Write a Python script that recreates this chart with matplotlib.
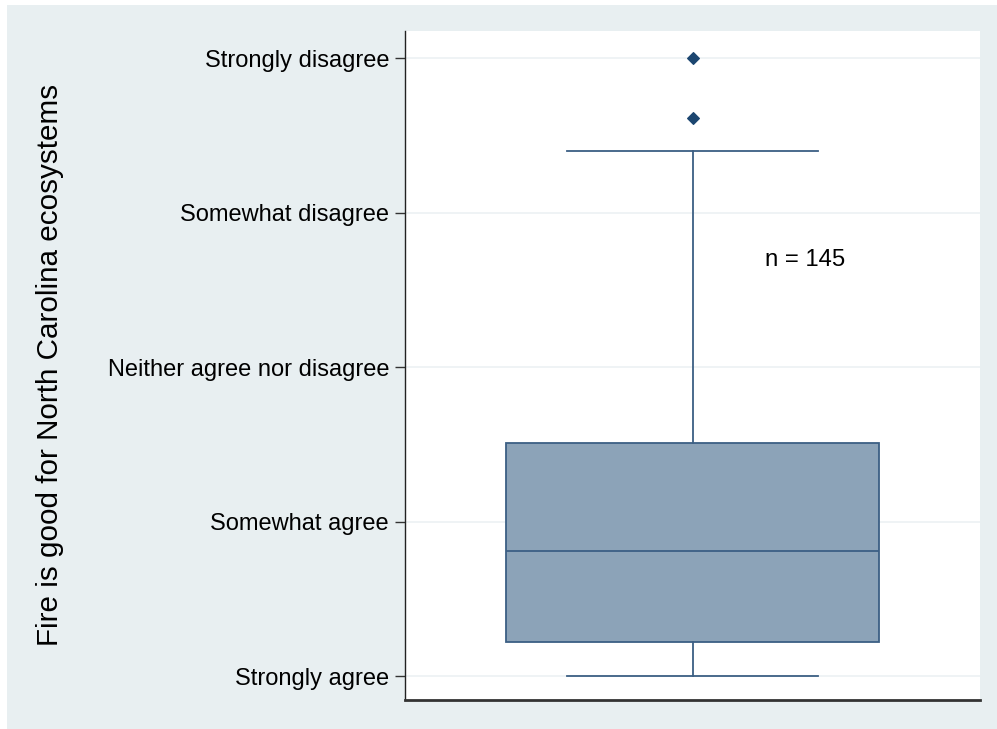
import matplotlib.pyplot as plt
from matplotlib.patches import Rectangle

plt.rcParams['font.family'] = ['Liberation Sans', 'DejaVu Sans']

# categories on the y axis (1 = Strongly agree ... 5 = Strongly disagree)
levels = [1, 2, 3, 4, 5]
level_labels = ['Strongly agree', 'Somewhat agree', 'Neither agree nor disagree',
                'Somewhat disagree', 'Strongly disagree']

# box statistics
q1 = 1.22
median = 1.81
q3 = 2.51
whisker_low = 1.0
whisker_high = 4.40
outliers = [4.61, 5.0]
n_obs = 145

bg = '#e8eff1'
box_fill = '#8ca3b8'
box_edge = '#3c5f84'
dot_col = '#1c4670'

fig = plt.figure(figsize=(9.97, 7.29), dpi=100)
fig.patch.set_facecolor('white')
fig.patches.append(Rectangle((7 / 997, 0), 1, 724 / 729, transform=fig.transFigure,
                             facecolor=bg, edgecolor='none', zorder=-10))

ax = fig.add_axes([405 / 997, 29 / 729, 575 / 997, 669 / 729])
ax.set_zorder(5)
ax.set_facecolor('white')

stats = [dict(med=median, q1=q1, q3=q3, whislo=whisker_low, whishi=whisker_high,
              fliers=outliers)]
ax.bxp(stats, positions=[0.5], widths=0.647, patch_artist=True, showfliers=True,
       boxprops=dict(facecolor=box_fill, edgecolor=box_edge, linewidth=1.3),
       medianprops=dict(color=box_edge, linewidth=1.3),
       whiskerprops=dict(color=box_edge, linewidth=1.3),
       capprops=dict(color=box_edge, linewidth=1.3),
       capwidths=0.435,
       flierprops=dict(marker='D', markersize=6.5, markerfacecolor=dot_col,
                       markeredgecolor=dot_col, markeredgewidth=0.8))

ax.set_xlim(0, 1)
ax.set_ylim(0.845, 5.175)
ax.set_xticks([])
ax.set_yticks(levels)
ax.set_yticklabels(level_labels, fontsize=17)
ax.tick_params(axis='y', length=7, width=1, pad=4.5, color='#333333')
ax.yaxis.grid(True, color='#ebf0f3', linewidth=1.1)
ax.set_axisbelow(True)

for side in ['top', 'right']:
    ax.spines[side].set_visible(False)
ax.spines['left'].set_color('#222222')
ax.spines['left'].set_linewidth(1)
ax.spines['bottom'].set_color('#333333')
ax.spines['bottom'].set_linewidth(2)

ax.text(0.696, 3.69, 'n = {}'.format(n_obs), fontsize=17.2, ha='center', va='center')

fig.text(50 / 997, 1 - 365 / 729, 'Fire is good for North Carolina ecosystems',
         rotation=90, fontsize=21.3, ha='center', va='center')

fig.savefig('out.png', dpi=100)
